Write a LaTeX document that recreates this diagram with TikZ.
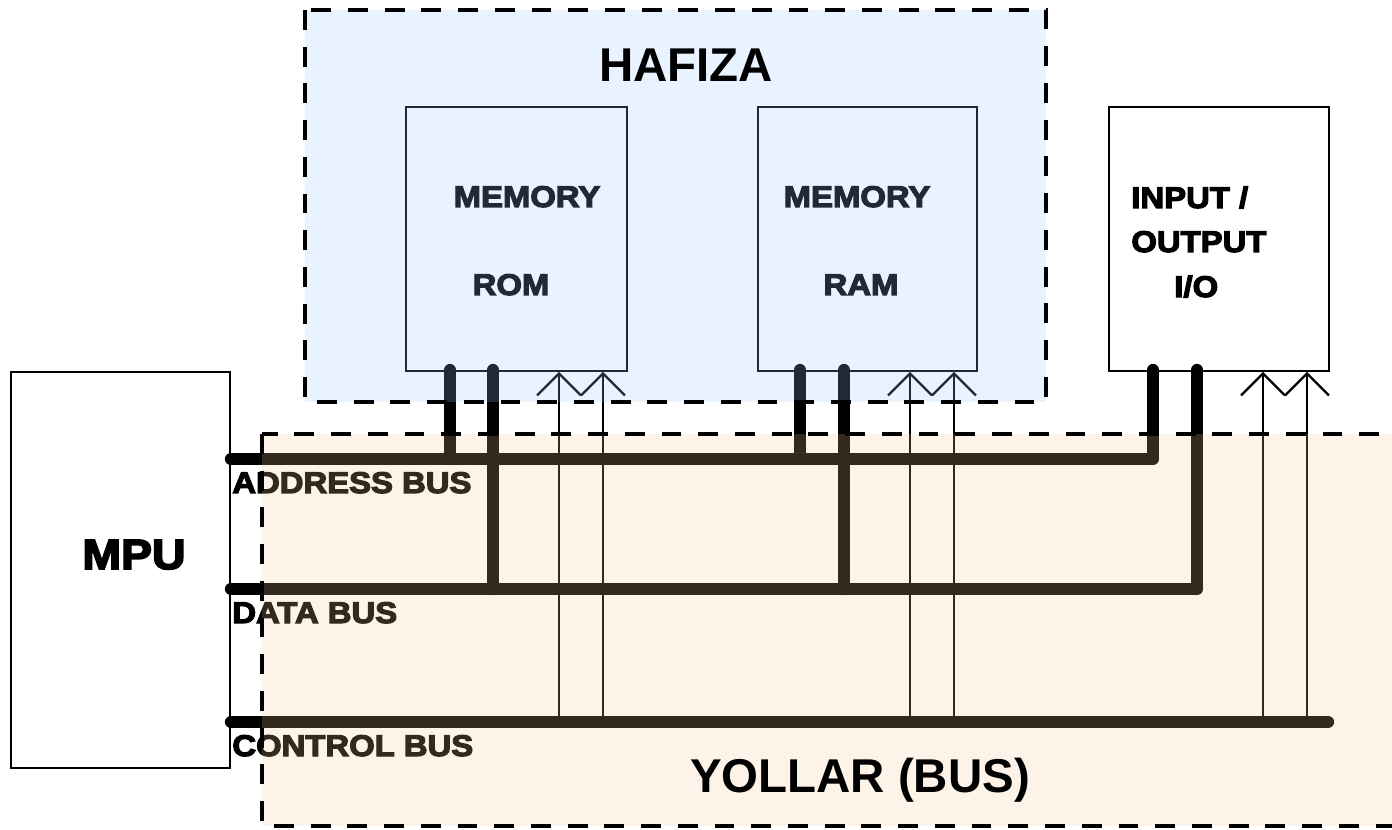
\documentclass[tikz,border=0pt]{standalone}
\usepackage{fontspec}
\setmainfont{Liberation Sans}
\newfontfamily\heavy[FakeStretch=1.1,FakeBold=4]{Liberation Sans Bold}
\usetikzlibrary{arrows.meta}

\definecolor{memblue}{RGB}{148,200,255}
\definecolor{buspeach}{RGB}{245,197,149}

\tikzset{
  box/.style={draw, fill=white, line width=1.1pt, inner sep=0pt, anchor=north west},
  lbl/.style={inner sep=0pt, font=\heavy\fontsize{17}{17}\selectfont},
  title/.style={inner sep=0pt, anchor=base, font=\bfseries\fontsize{27}{27}\selectfont},
  bus/.style={line width=7pt, line cap=round, line join=round},
  ctrlline/.style={line width=1.1pt, -{Straight Barb[length=12.5pt,width=25pt,line width=1.3pt]}},
  region/.style={line width=2.7pt, dash pattern=on 11.3pt off 9.6pt, fill opacity=0.21}
}

\begin{document}
\begin{tikzpicture}[x=0.02cm, y=-0.02cm]
        \useasboundingbox (0,0) rectangle (1392,830);

        % Boxes
        \node[box, minimum width=4.38cm, minimum height=7.92cm] (mpu) at (10,371) {};
        \node[box, minimum width=4.42cm, minimum height=5.28cm] (rom) at (405,106) {};
        \node[box, minimum width=4.38cm, minimum height=5.28cm] (ram) at (757,106) {};
        \node[box, minimum width=4.40cm, minimum height=5.28cm] (io) at (1108,106) {};

        % Box texts
        \node[lbl, anchor=base, font=\heavy\fontsize{24}{24}\selectfont] (mputxt) at (134,569) {MPU};
        \node[lbl, anchor=base] (romtop) at (527,207) {MEMORY};
        \node[lbl, anchor=base] (romtxt) at (511,295) {ROM};
        \node[lbl, anchor=base] (ramtop) at (857,207) {MEMORY};
        \node[lbl, anchor=base] (ramtxt) at (861,295) {RAM};
        \node[lbl, anchor=base west] (iotop) at (1131,208) {INPUT /};
        \node[lbl, anchor=base west] (iomid) at (1131,252) {OUTPUT};
        \node[lbl, anchor=base west] (iotxt) at (1174,297) {I/O};

        % Bus ends and pins
        \coordinate (a0) at (231,459);
        \coordinate (d0) at (231,589);
        \coordinate (c0) at (231,722);
        \coordinate (c1) at (1328,722);
        \coordinate (romA) at (450,370);
        \coordinate (romD) at (493,370);
        \coordinate (ramA) at (800,370);
        \coordinate (ramD) at (844,370);
        \coordinate (ioA) at (1153,370);
        \coordinate (ioD) at (1197,370);

        % The buses
        \draw[bus] (a0) -| (ioA);
        \draw[bus] (d0) -| (ioD);
        \draw[bus] (c0) -- (c1);
        \draw[bus] (romA) -- (romA |- a0);
        \draw[bus] (romD) -- (romD |- d0);
        \draw[bus] (ramA) -- (ramA |- a0);
        \draw[bus] (ramD) -- (ramD |- d0);

        % Control lines
        \draw[ctrlline] (559,0 |- c0) -- (559,0 |- rom.south);
        \draw[ctrlline] (603,0 |- c0) -- (603,0 |- rom.south);
        \draw[ctrlline] (910,0 |- c0) -- (910,0 |- ram.south);
        \draw[ctrlline] (954,0 |- c0) -- (954,0 |- ram.south);
        \draw[ctrlline] (1263,0 |- c0) -- (1263,0 |- io.south);
        \draw[ctrlline] (1307,0 |- c0) -- (1307,0 |- io.south);

        % Bus labels
        \node[lbl, anchor=base west] (abl) at (232,493) {ADDRESS BUS};
        \node[lbl, anchor=base west] (dbl) at (232,623) {DATA BUS};
        \node[lbl, anchor=base west] (cbl) at (232,756) {CONTROL BUS};

        % Shaded regions
        \draw[region, fill=memblue] (305,10) rectangle (1046,402);
        \draw[region, fill=buspeach] (262,434) rectangle (1420,826);

        \node[title] (hafiza) at (686,82) {HAFIZA};
        \node[title] (yollar) at (860,792) {YOLLAR (BUS)};
    \end{tikzpicture}
\end{document}
